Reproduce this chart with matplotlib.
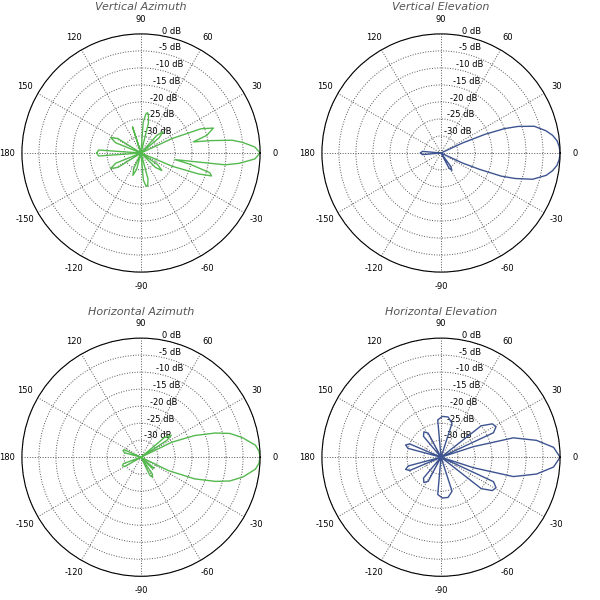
import matplotlib
matplotlib.use("Agg")
import matplotlib.pyplot as plt
import numpy as np

# Radiation patterns: angle (deg) and gain (dB)
VA_ANG = [-180, -176, -170, -165, -158, -153, -148, -140, -125, -115, -110, -105, -95,
          -85, -82, -80, -78, -75, -68, -55, -45, -40, -35, -30, -26, -23, -20, -18, -16, -13,
          -11, -8, -6, -3, 0, 3, 6, 8, 10, 12, 15, 19, 22, 25, 28, 35, 40, 44, 48,
          55, 70, 76, 79, 81, 83, 86, 92, 100, 108, 114, 125, 140, 148, 153, 158, 165, 170,
          176, 180]
VA_DB = [-22, -22.5, -35, -35, -27, -25, -27, -35, -35, -30, -28, -30, -35,
         -27, -25.5, -25, -25.5, -27, -35, -35, -29, -27, -29, -35, -35, -25, -17, -13.2, -14, -20,
         -24.8, -10, -6, -1.5, 0, -1.5, -5, -8, -14, -19.3, -15, -12.5, -16, -25, -35,
         -35, -28, -26, -28, -35, -35, -26, -23.5, -23, -23.5, -26, -35, -35, -27, -35, -35, -35, -27,
         -25, -27, -35, -35, -22.5, -22]

VE_ANG = [-180, -175, -170, -150, -90, -70, -62, -58, -54, -48, -40, -27, -25, -23,
          -21, -19, -16, -12, -9, -6, -3, 0, 3, 6, 9, 12, 16, 19, 21, 23, 25, 27, 40, 90, 150,
          170, 175, 180]
VE_DB = [-29, -29.5, -35, -35, -35, -35, -30, -29, -30, -35, -35, -35, -28, -22.7,
         -16, -12, -7, -3.4, -1.8, -0.7, -0.2, 0, -0.2, -0.7, -1.8, -3.5, -6.5, -11, -15, -21, -28, -35, -35,
         -35, -35, -35, -29.5, -29]

HA_ANG = [-180, -170, -160, -155, -150, -140, -90, -70, -64, -60, -56, -50, -45,
          -40, -35, -30, -26, -22, -18, -15, -11, -6, -3, 0, 3, 6, 11, 15, 18, 22, 26, 30,
          33, 36, 40, 45, 60, 120, 150, 156, 160, 165, 170, 180]
HA_DB = [-35, -35, -29.5, -29, -29.5, -35, -35, -35, -29, -28.3, -29, -35, -30.5,
         -30, -35, -35, -26, -18, -12, -8, -4.5, -1.2, -0.3, 0, -0.3, -1.2, -4.7, -8, -12, -18,
         -25, -35, -26, -24, -26, -35, -35, -35, -35, -29.5, -29.4, -30, -35, -35]

HE_ANG = [-180, -172, -165, -161, -157, -150, -140, -130, -124, -118, -110, -100,
          -95, -88, -80, -72, -66, -55, -45, -38, -33, -29, -25, -21, -18, -15, -10,
          -5, 0, 5, 10, 15, 18, 21, 25, 29, 33, 38, 45, 55, 66, 72, 80, 88, 95,
          100, 110, 118, 124, 130, 140, 150, 157, 161, 165, 172, 180]
HE_DB = [-35, -35, -25, -24, -25, -35, -35, -27, -26, -27, -35, -35, -24, -23,
         -23, -24.5, -35, -35, -35, -20, -17, -16.5, -18, -35, -25, -13, -6.5, -1.8,
         0, -1.8, -6.5, -13, -25, -35, -18, -16.5, -17, -20, -35, -35, -35, -24.5, -23,
         -23, -24, -35, -35, -27, -26, -27, -35, -35, -25, -24, -25, -35, -35]

PANELS = [
    ("Vertical Azimuth", VA_ANG, VA_DB, "#55b94f"),
    ("Vertical Elevation", VE_ANG, VE_DB, "#3d5490"),
    ("Horizontal Azimuth", HA_ANG, HA_DB, "#55b94f"),
    ("Horizontal Elevation", HE_ANG, HE_DB, "#3d5490"),
]

DB_RINGS = [-30, -25, -20, -15, -10, -5, 0]
THETA_TICKS = [0, 30, 60, 90, 120, 150, 180, 210, 240, 270, 300, 330]
THETA_LABELS = ["0", "30", "60", "90", "120", "150", "180", "-150", "-120", "-90", "-60", "-30"]
FLOOR = -35

# panel centres in figure fractions, circle radius ~119 px
CENTRES = [(0.235, 0.745), (0.735, 0.745), (0.235, 0.238), (0.735, 0.238)]
TITLE_Y = [0.988, 0.988, 0.48, 0.48]
SIZE = 0.397

fig = plt.figure(figsize=(6, 6), dpi=100)
for (title, ang, db, color), (cx, cy), ty in zip(PANELS, CENTRES, TITLE_Y):
    ax = fig.add_axes([cx - SIZE / 2, cy - SIZE / 2, SIZE, SIZE], projection="polar")
    r = np.array(db) - FLOOR
    ax.plot(np.deg2rad(ang), r, color=color, lw=1.0)
    ax.set_ylim(0, -FLOOR)
    ax.set_yticks([d - FLOOR for d in DB_RINGS])
    ax.set_yticklabels([f"{d} dB" for d in DB_RINGS], fontsize=6)
    ax.set_rlabel_position(80)
    ax.set_xticks(np.deg2rad(THETA_TICKS))
    ax.set_xticklabels(THETA_LABELS, fontsize=6)
    ax.tick_params(axis="x", pad=0)
    ax.grid(True, color="#555555", linestyle=":", lw=0.7)
    ax.spines["polar"].set_linewidth(0.8)
    fig.text(cx, ty, title, fontsize=8, style="italic", color="#555555",
             ha="center", va="center")

plt.savefig("out.png", dpi=100)
